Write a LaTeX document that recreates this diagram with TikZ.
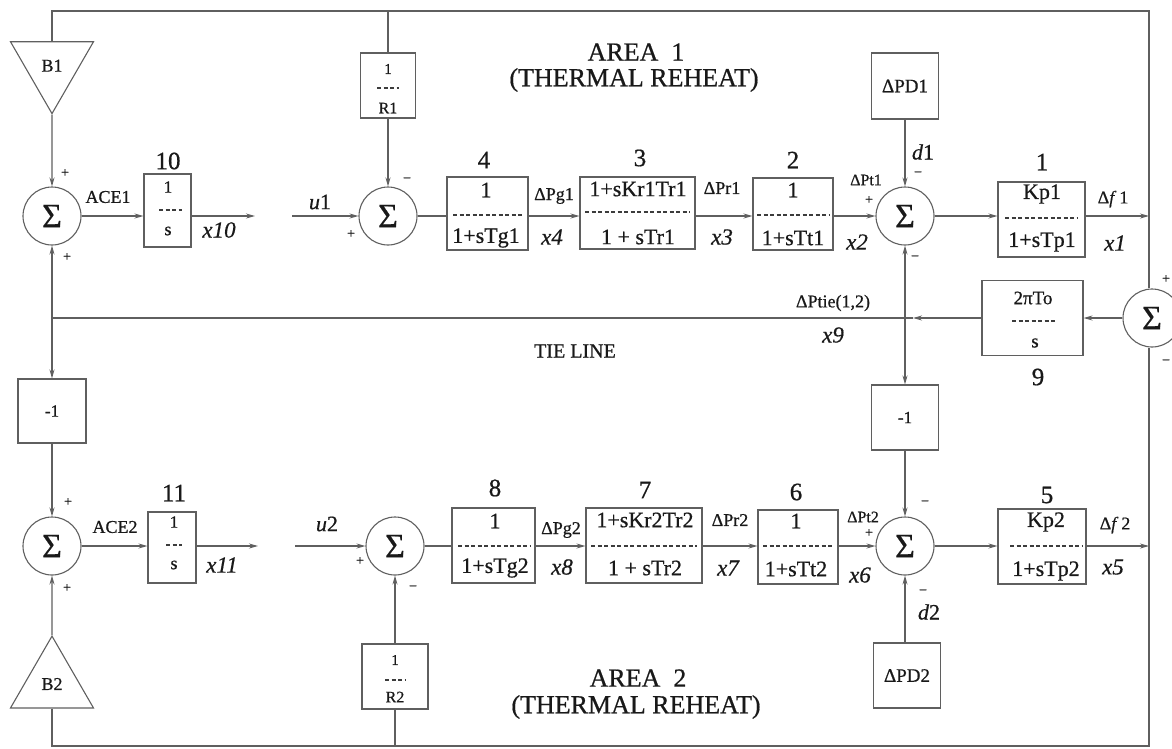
\documentclass[tikz,border=0pt]{standalone}
\usepackage{fontspec}
\setmainfont{Liberation Serif}[UprightFeatures={FakeBold=0.7},ItalicFeatures={FakeBold=0.5}]
\usetikzlibrary{arrows.meta,shapes.geometric}
\newcommand\myfs[1]{\fontsize{#1}{#1}\selectfont}
\definecolor{ln}{RGB}{95,95,95}
\definecolor{tx}{RGB}{25,25,25}
\begin{document}
\begin{tikzpicture}[x=1pt,y=-1pt,line width=1.1pt,color=ln,
  >={Stealth[length=9pt,width=5pt]},
  blk/.style={draw=ln,rectangle,inner sep=0pt,line width=1.1pt,text=tx,font=\myfs{17}},
  sumn/.style={draw=ln,circle,minimum size=58pt,inner sep=0pt,font=\myfs{34},text=tx},
  tri/.style={draw=ln,regular polygon,regular polygon sides=3,minimum size=95.8pt,inner sep=0pt,text=tx,font=\myfs{18},line width=1.1pt},
  lbl/.style={inner sep=0pt,text=tx},
  fr/.style={lbl,font=\myfs{22}},
  bn/.style={lbl,font=\myfs{25}},
  sg/.style={lbl,font=\myfs{14}},
  sm/.style={lbl,font=\myfs{18}},
  vr/.style={lbl,font=\myfs{23}\itshape},
  ttl/.style={lbl,font=\myfs{26}},
  dsh/.style={dash pattern=on 4pt off 2.5pt,line width=1.2pt,color=tx!85}]
\useasboundingbox (0,0) rectangle (1172,748);
% coordinates
\coordinate (tl) at (52,11);
\coordinate (tm) at (388,11);
\coordinate (tr) at (1149,11);
\coordinate (bl) at (52,746);
\coordinate (bm) at (395,746);
\coordinate (br) at (1149,746);
\coordinate (f1) at (1149,216);
\coordinate (f2) at (1149,546);
\coordinate (tjL) at (52,318);
\coordinate (tjR) at (905,318);
\coordinate (tjA) at (913,318);
\coordinate (x10e) at (255,216);
\coordinate (u1s) at (292,216);
\coordinate (x11e) at (258,546);
\coordinate (u2s) at (295,546);
% blocks
\node[tri,shape border rotate=180] (B1) at (52,65.7) {B1};
\node[sumn] (sA1) at (52,216) {Σ};
\node[blk,minimum width=47pt,minimum height=73pt] (b10) at (167.5,210.5) {};
\node[sumn] (sB1) at (388,216) {Σ};
\node[blk,minimum width=55pt,minimum height=65pt] (r1) at (388,85.5) {};
\node[blk,minimum width=81pt,minimum height=73pt] (g1) at (487.5,213.5) {};
\node[blk,minimum width=115pt,minimum height=72pt] (rh1) at (637.5,213) {};
\node[blk,minimum width=80pt,minimum height=72pt] (t1) at (793,214) {};
\node[sumn] (sC1) at (905,216) {Σ};
\node[blk,minimum width=67pt,minimum height=66pt,font=\myfs{19}] (pd1) at (905,86) {ΔPD1};
\node[blk,minimum width=87pt,minimum height=75pt] (p1) at (1041.5,219.5) {};
\node[blk,minimum width=101pt,minimum height=75pt] (tie) at (1032.5,318) {};
\node[sumn] (sR) at (1152,318) {Σ};
\node[blk,minimum width=67pt,minimum height=65pt] (m1r) at (905,417.5) {-1};
\node[blk,minimum width=68pt,minimum height=64pt] (m1l) at (52,411) {-1};
\node[sumn] (sA2) at (52,546) {Σ};
\node[tri] (B2) at (52,684) {B2};
\node[blk,minimum width=48pt,minimum height=71pt] (b11) at (172,547.5) {};
\node[sumn] (sB2) at (395,546) {Σ};
\node[blk,minimum width=66pt,minimum height=65pt] (r2) at (395,676.5) {};
\node[blk,minimum width=83pt,minimum height=75pt] (g2) at (493.5,545.5) {};
\node[blk,minimum width=116pt,minimum height=75pt] (rh2) at (644,545.5) {};
\node[blk,minimum width=80pt,minimum height=74pt] (t2) at (798,547) {};
\node[sumn] (sC2) at (905,546) {Σ};
\node[blk,minimum width=67pt,minimum height=65pt,font=\myfs{19}] (pd2) at (907,675.5) {ΔPD2};
\node[blk,minimum width=88pt,minimum height=75pt] (p2) at (1042,546.5) {};
% connectors: outer loop
\draw (B1.90) -- (tl) -- (tr) -- (tr |- sR.north);
\draw (tm) -- (r1.north);
\draw (B2.-90) -- (bl) -- (br) -- (br |- sR.south);
\draw (r2.south) -- (bm);
% area 1
\draw[->] (B1.-90) -- (sA1.north);
\draw[->] (sA1.east) -- (sA1.east -| b10.west);
\draw[->] (b10.east |- x10e) -- (x10e);
\draw[->] (u1s) -- (sB1.west);
\draw[->] (r1.south) -- (sB1.north);
\draw (sB1.east) -- (sB1.east -| g1.west);
\draw[->] (g1.east |- sB1) -- (rh1.west |- sB1);
\draw[->] (rh1.east |- sB1) -- (t1.west |- sB1);
\draw[->] (t1.east |- sB1) -- (sC1.west);
\draw[->] (pd1.south) -- (sC1.north);
\draw[->] (sC1.east) -- (p1.west |- sC1);
\draw[->] (p1.east |- sC1) -- (f1);
% tie line
\draw[->] (sR.west) -- (sR.west -| tie.east);
\draw[->] (tie.west |- tjA) -- (tjA);
\draw (tjA) -- (tjL);
\draw[->] (tjL) -- (sA1.south);
\draw[->] (tjL) -- (m1l.north);
\draw[->] (tjR) -- (sC1.south);
\draw[->] (tjR) -- (m1r.north);
% area 2
\draw[->] (m1l.south) -- (sA2.north);
\draw[->] (B2.90) -- (sA2.south);
\draw[->] (sA2.east) -- (sA2.east -| b11.west);
\draw[->] (b11.east |- x11e) -- (x11e);
\draw[->] (u2s) -- (sB2.west);
\draw[->] (r2.north) -- (sB2.south);
\draw (sB2.east) -- (sB2.east -| g2.west);
\draw[->] (g2.east |- sB2) -- (rh2.west |- sB2);
\draw[->] (rh2.east |- sB2) -- (t2.west |- sB2);
\draw[->] (t2.east |- sB2) -- (sC2.west);
\draw[->] (m1r.south) -- (sC2.north);
\draw[->] (pd2.north -| sC2) -- (sC2.south);
\draw[->] (sC2.east) -- (p2.west |- sC2);
\draw[->] (p2.east |- sC2) -- (f2);
% fraction bars
\draw[dsh] (159,210) -- (182,210);
\draw[dsh] (377,88) -- (399,88);
\draw[dsh] (453,215) -- (524,215);
\draw[dsh] (585,212) -- (690,212);
\draw[dsh] (757,215) -- (829,215);
\draw[dsh] (1005,218) -- (1077,218);
\draw[dsh] (1012,321) -- (1057,321);
\draw[dsh] (166,545) -- (182,545);
\draw[dsh] (385,680) -- (405,680);
\draw[dsh] (458,546) -- (530,546);
\draw[dsh] (591,546) -- (697,546);
\draw[dsh] (763,546) -- (834,546);
\draw[dsh] (1010,546) -- (1082,546);
% labels area 1
\node[ttl] (a1t) at (636,52) {AREA~~1};
\node[ttl] (a1s) at (634,80) {(THERMAL REHEAT)};
\node[sg] (sa1p) at (65,173) {+};
\node[sg] (sa1q) at (67,257) {+};
\node[sm] (ace1) at (108,197) {ACE1};
\node[bn] (n10) at (168,161) {10};
\node[lbl,font=\myfs{17}] (b10n) at (168,187) {1};
\node[lbl,font=\myfs{18}] (b10d) at (168,231) {s};
\node[vr] (x10) at (219,230) {x10};
\node[lbl,font=\myfs{22}] (u1) at (320,202) {\textit{u}1};
\node[sg] (sb1p) at (351,234) {+};
\node[sg] (sb1m) at (407,180) {−};
\node[lbl,font=\myfs{15}] (r1n) at (388,69) {1};
\node[lbl,font=\myfs{16}] (r1d) at (388,108) {R1};
\node[bn] (n4) at (484,160) {4};
\node[fr] (g1n) at (486,190) {1};
\node[fr] (g1d) at (486,238) {1+sTg1};
\node[sm] (pg1) at (554,196) {ΔPg1};
\node[vr] (x4) at (552,237) {x4};
\node[bn] (n3) at (640,158) {3};
\node[fr] (rh1n) at (638,189) {1+sKr1Tr1};
\node[fr] (rh1d) at (638,237) {1 + sTr1};
\node[sm] (pr1) at (722,188) {ΔPr1};
\node[vr] (x3) at (722,237) {x3};
\node[bn] (n2) at (793,160) {2};
\node[fr] (t1n) at (793,190) {1};
\node[fr] (t1d) at (793,238) {1+sTt1};
\node[lbl,font=\myfs{16}] (pt1) at (866,180) {ΔPt1};
\node[sg] (sc1p) at (869,200) {+};
\node[vr] (x2) at (857,242) {x2};
\node[lbl,font=\myfs{22}] (d1) at (923,152) {\textit{d}1};
\node[sg] (sc1m) at (918,174) {−};
\node[sg] (sc1q) at (915,258) {−};
\node[bn] (n1) at (1042,162) {1};
\node[fr] (p1n) at (1042,194) {Kp1};
\node[fr] (p1d) at (1042,242) {1+sTp1};
\node[lbl,font=\myfs{18}] (df1) at (1113,199) {Δ\textit{f}\,1};
\node[vr] (x1) at (1115,243) {x1};
\node[sg] (srp) at (1166,279) {+};
\node[sg] (srm) at (1166,362) {−};
% tie labels
\node[sm] (ptie) at (833,303) {ΔPtie(1,2)};
\node[vr] (x9) at (833,335) {x9};
\node[lbl,font=\myfs{19}] (tien) at (1033,298) {2πTo};
\node[lbl,font=\myfs{19}] (tied) at (1035,343) {s};
\node[bn] (n9) at (1038,377) {9};
\node[lbl,font=\myfs{20}] (tiel) at (575,351) {TIE LINE};
% labels area 2
\node[sg] (sa2p) at (68,502) {+};
\node[sg] (sa2q) at (67,588) {+};
\node[sm] (ace2) at (115,527) {ACE2};
\node[bn] (n11) at (174,493) {11};
\node[lbl,font=\myfs{17}] (b11n) at (174,522) {1};
\node[lbl,font=\myfs{18}] (b11d) at (174,565) {s};
\node[vr] (x11) at (222,565) {x11};
\node[lbl,font=\myfs{22}] (u2) at (327,524) {\textit{u}2};
\node[sg] (sb2p) at (360,561) {+};
\node[sg] (sb2m) at (413,588) {−};
\node[lbl,font=\myfs{15}] (r2n) at (395,660) {1};
\node[lbl,font=\myfs{16}] (r2d) at (395,697) {R2};
\node[bn] (n8) at (495,488) {8};
\node[fr] (g2n) at (495,521) {1};
\node[fr] (g2d) at (495,568) {1+sTg2};
\node[sm] (pg2) at (561,530) {ΔPg2};
\node[vr] (x8) at (562,567) {x8};
\node[bn] (n7) at (645,490) {7};
\node[fr] (rh2n) at (645,520) {1+sKr2Tr2};
\node[fr] (rh2d) at (645,568) {1 + sTr2};
\node[sm] (pr2) at (730,520) {ΔPr2};
\node[vr] (x7) at (728,568) {x7};
\node[bn] (n6) at (796,492) {6};
\node[fr] (t2n) at (796,521) {1};
\node[fr] (t2d) at (796,569) {1+sTt2};
\node[lbl,font=\myfs{16}] (pt2) at (863,517) {ΔPt2};
\node[sg] (sc2p) at (869,533) {+};
\node[vr] (x6) at (860,575) {x6};
\node[sg] (sc2m) at (925,503) {−};
\node[sg] (sc2q) at (923,592) {−};
\node[lbl,font=\myfs{22}] (d2) at (929,612) {\textit{d}2};
\node[bn] (n5) at (1047,495) {5};
\node[fr] (p2n) at (1046,522) {Kp2};
\node[fr] (p2d) at (1046,571) {1+sTp2};
\node[lbl,font=\myfs{18}] (df2) at (1115,525) {Δ\textit{f}\,2};
\node[vr] (x5) at (1113,567) {x5};
\node[ttl] (a2t) at (638,678) {AREA~~2};
\node[ttl] (a2s) at (636,707) {(THERMAL REHEAT)};
\end{tikzpicture}
\end{document}
